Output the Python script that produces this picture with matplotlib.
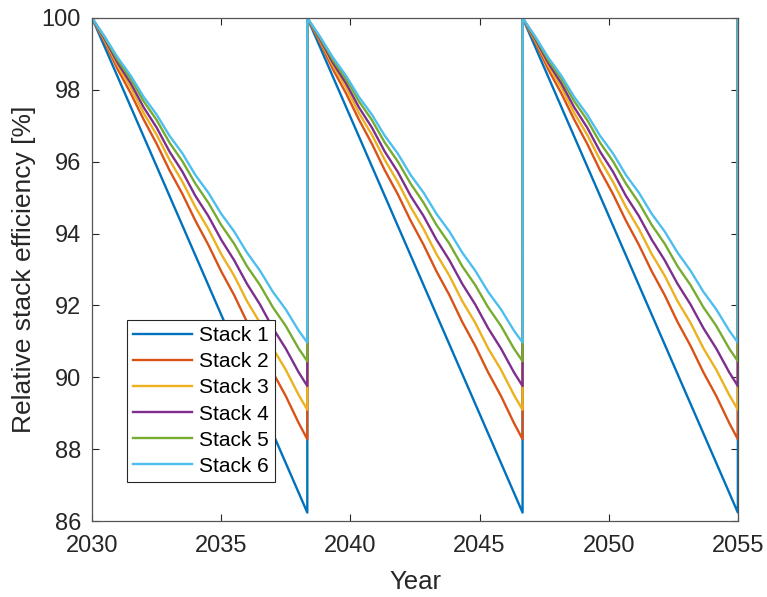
import matplotlib
matplotlib.use("Agg")
import matplotlib.pyplot as plt

# Stack replacement cycle (years), one cycle repeated three times 2030-2055
cycle_starts = [2030.0, 2038.333, 2046.667]
t_cycle = [0.0, 0.5, 1.0, 1.5, 2.0, 2.5, 3.0, 3.5, 4.0, 4.5, 5.0, 5.5,
           6.0, 6.5, 7.0, 7.5, 8.0, 8.333]

# Relative efficiency [%] per stack over one cycle
stack1 = [100.0, 86.24]
t_stack1 = [0.0, 8.333]
stack2 = [100.0, 99.31, 98.56, 97.90, 97.17, 96.50, 95.76, 95.10, 94.36,
          93.69, 92.95, 92.29, 91.54, 90.88, 90.14, 89.48, 88.73, 88.28]
stack3 = [100.0, 99.36, 98.67, 98.06, 97.35, 96.75, 96.05, 95.44, 94.74,
          94.13, 93.43, 92.83, 92.12, 91.52, 90.81, 90.21, 89.51, 89.10]
stack4 = [100.0, 99.40, 98.74, 98.18, 97.51, 96.95, 96.28, 95.72, 95.05,
          94.49, 93.83, 93.26, 92.60, 92.03, 91.37, 90.80, 90.14, 89.76]
stack5 = [100.0, 99.44, 98.82, 98.30, 97.68, 97.16, 96.53, 96.01, 95.39,
          94.86, 94.24, 93.72, 93.09, 92.57, 91.95, 91.43, 90.80, 90.45]
stack6 = [100.0, 99.47, 98.89, 98.39, 97.80, 97.31, 96.72, 96.23, 95.63,
          95.14, 94.55, 94.06, 93.47, 92.97, 92.38, 91.89, 91.30, 90.97]

labels = ["Stack 1", "Stack 2", "Stack 3", "Stack 4", "Stack 5", "Stack 6"]
colors = ["#0072BD", "#D95319", "#EDB120", "#7E2F8E", "#77AC30", "#4DBEEE"]


def repeat_cycles(t, y):
    xs, ys = [], []
    for start in cycle_starts:
        xs += [start + v for v in t]
        ys += list(y)
    # replacement at the end of the horizon
    xs.append(xs[-1])
    ys.append(y[0])
    return xs, ys


plt.rcParams["font.family"] = ["Liberation Sans", "DejaVu Sans"]
fig = plt.figure(figsize=(7.67, 5.97), dpi=100)
ax = fig.add_axes([0.120, 0.127, 0.842, 0.843])

series = [(t_stack1, stack1), (t_cycle, stack2), (t_cycle, stack3),
          (t_cycle, stack4), (t_cycle, stack5), (t_cycle, stack6)]
for (t, y), lab, c in zip(series, labels, colors):
    xs, ys = repeat_cycles(t, y)
    ax.plot(xs, ys, color=c, lw=1.7, label=lab)

ax.set_xlim(2030, 2055)
ax.set_ylim(86, 100)
ax.set_xticks(range(2030, 2056, 5))
ax.set_yticks(range(86, 101, 2))
ax.tick_params(axis="both", direction="in", top=True, right=True, length=5,
               labelsize=17, colors="#262626")
ax.tick_params(axis="x", pad=10)
ax.tick_params(axis="y", pad=8)
for s in ax.spines.values():
    s.set_color("#555555")
    s.set_linewidth(0.9)
ax.set_xlabel("Year", fontsize=18.5, color="#262626", labelpad=9)
ax.set_ylabel("Relative stack efficiency [%]", fontsize=19,
              color="#262626", labelpad=4)

leg = ax.legend(loc="lower left", bbox_to_anchor=(0.054, 0.078),
                borderaxespad=0, fontsize=15, handlelength=2.84,
                labelspacing=0.34, fancybox=False, framealpha=1,
                borderpad=0.3, handletextpad=0.3)
leg.get_frame().set_edgecolor("#262626")
leg.get_frame().set_linewidth(0.8)

fig.savefig("out.png", dpi=100)
